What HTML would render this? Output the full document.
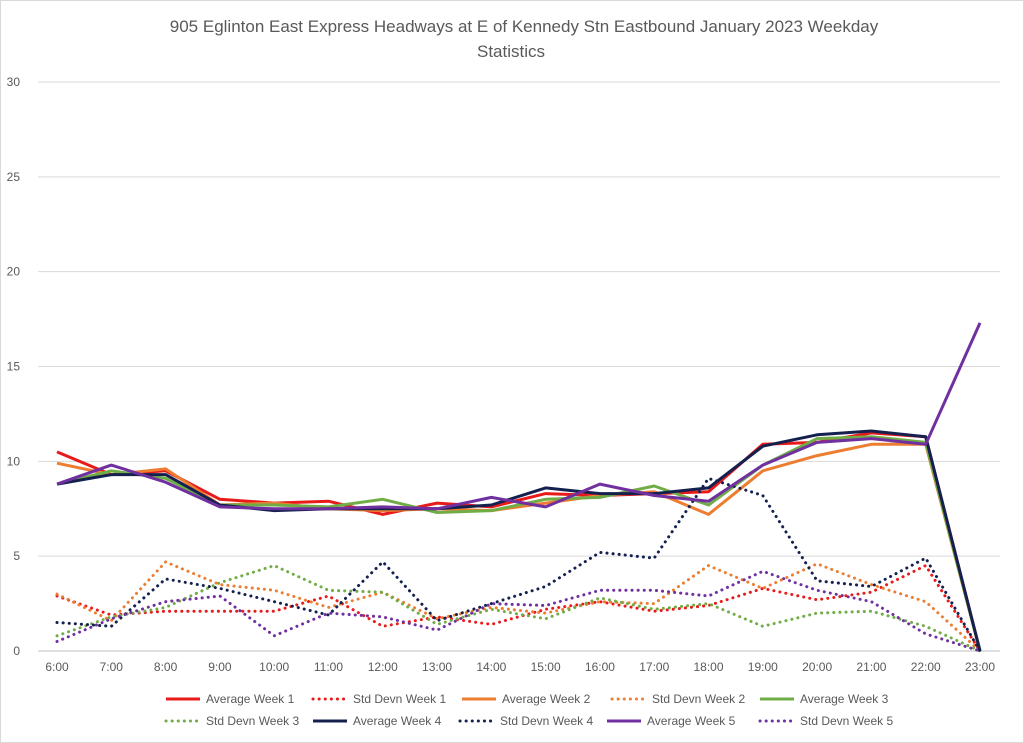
<!DOCTYPE html>
<html><head><meta charset="utf-8"><style>
body{margin:0;background:#fff;}
svg{display:block;font-family:"Liberation Sans",Arial,sans-serif;}
</style></head><body>
<svg id="chart" width="1024" height="743">
<rect x="0.5" y="0.5" width="1023" height="742" fill="#fff" stroke="#d9d9d9"/>
<text x="524" y="32" text-anchor="middle" font-size="17" fill="#595959">905 Eglinton East Express Headways at E of Kennedy Stn Eastbound January 2023 Weekday</text>
<text x="511" y="57" text-anchor="middle" font-size="17" fill="#595959">Statistics</text>
<g id="grid"></g><g id="series"></g><g id="legend"></g>
</svg>
<script>
const categories=["6:00","7:00","8:00","9:00","10:00","11:00","12:00","13:00","14:00","15:00","16:00","17:00","18:00","19:00","20:00","21:00","22:00","23:00"];
const yTicks=[0,5,10,15,20,25,30];
const avgW1=[10.5,9.3,9.5,8.0,7.8,7.9,7.2,7.8,7.6,8.3,8.2,8.3,8.4,10.9,11.0,11.5,11.3,0];
const stdW1=[2.9,1.9,2.1,2.1,2.1,2.9,1.3,1.8,1.4,2.2,2.6,2.1,2.4,3.3,2.7,3.1,4.5,0];
const avgW2=[9.9,9.3,9.6,7.7,7.8,7.5,7.4,7.5,7.4,7.8,8.2,8.4,7.2,9.5,10.3,10.9,10.9,0];
const stdW2=[3.0,1.6,4.7,3.5,3.2,2.3,3.1,1.7,2.3,2.0,2.6,2.5,4.5,3.3,4.6,3.5,2.6,0];
const avgW3=[8.8,9.5,9.1,7.7,7.7,7.6,8.0,7.3,7.4,8.0,8.1,8.7,7.7,9.8,11.2,11.3,11.0,0];
const stdW3=[0.8,1.8,2.3,3.6,4.5,3.2,3.1,1.4,2.2,1.7,2.8,2.2,2.5,1.3,2.0,2.1,1.3,0];
const avgW4=[8.8,9.3,9.3,7.7,7.4,7.5,7.5,7.5,7.7,8.6,8.3,8.3,8.6,10.8,11.4,11.6,11.3,0];
const stdW4=[1.5,1.3,3.8,3.3,2.6,1.9,4.7,1.6,2.5,3.4,5.2,4.9,9.1,8.2,3.7,3.4,4.9,0];
const avgW5=[8.8,9.8,8.9,7.6,7.5,7.5,7.6,7.5,8.1,7.6,8.8,8.2,7.9,9.8,11.0,11.2,10.9,17.3];
const stdW5=[0.5,1.7,2.6,2.9,0.8,2.0,1.8,1.1,2.5,2.4,3.2,3.2,2.9,4.2,3.2,2.6,0.9,0];

const NS="http://www.w3.org/2000/svg";
const X0=57,XSTEP=(980-57)/17,Y0=651,YPX=(651-82)/30;
const xs=i=>X0+i*XSTEP, ys=v=>Y0-v*YPX;
function mk(t,a,p){const e=document.createElementNS(NS,t);for(const k in a)e.setAttribute(k,a[k]);p.appendChild(e);return e;}
const grid=document.getElementById('grid');
yTicks.forEach(t=>{
  const l=mk('line',{x1:38,x2:1000,y1:ys(t),y2:ys(t),stroke:t===0?'#bfbfbf':'#d9d9d9','stroke-width':1},grid);
  
  
  const tx=mk('text',{x:20,y:ys(t)+4,'text-anchor':'end','font-size':12,fill:'#595959'},grid);tx.textContent=t;
  
  
});
categories.forEach((c,i)=>{
  const tx=mk('text',{x:xs(i),y:671,'text-anchor':'middle','font-size':12,fill:'#595959'},grid);tx.textContent=c;
  
  
});
const series=[
 ["Average Week 1",avgW1,'#e81a1a',false],["Std Devn Week 1",stdW1,'#e81a1a',true],
 ["Average Week 2",avgW2,'#ed7d31',false],["Std Devn Week 2",stdW2,'#ed7d31',true],
 ["Average Week 3",avgW3,'#70ad47',false],["Std Devn Week 3",stdW3,'#70ad47',true],
 ["Average Week 4",avgW4,'#14214f',false],["Std Devn Week 4",stdW4,'#14214f',true],
 ["Average Week 5",avgW5,'#7030a0',false],["Std Devn Week 5",stdW5,'#7030a0',true]];
const sg=document.getElementById('series'),lg=document.getElementById('legend');
const legX=[166,313,462,612,760,166,313,460,607,760];
function styleOf(dot){return dot?{'stroke-width':3,'stroke-dasharray':'0.1 6','stroke-linecap':'round'}:{'stroke-width':3,'stroke-linejoin':'round'};}
series.forEach((s,k)=>{
  const d=s[1].map((v,i)=>(i?'L':'M')+xs(i).toFixed(1)+' '+ys(v).toFixed(1)).join(' ');
  const p=mk('path',Object.assign({d:d,fill:'none',stroke:s[2]},styleOf(s[3])),sg);
  
  
  const row=k<5?0:1, lx=legX[k], ly=row?721:699;
  const g=mk('g',{},lg);
  
  
  mk('line',Object.assign({x1:lx,x2:lx+34,y1:ly,y2:ly,stroke:s[2]},styleOf(s[3])),g);
  const t=mk('text',{x:lx+40,y:ly+4,'font-size':12,fill:'#595959'},g);t.textContent=s[0];
});
</script>
</body></html>
